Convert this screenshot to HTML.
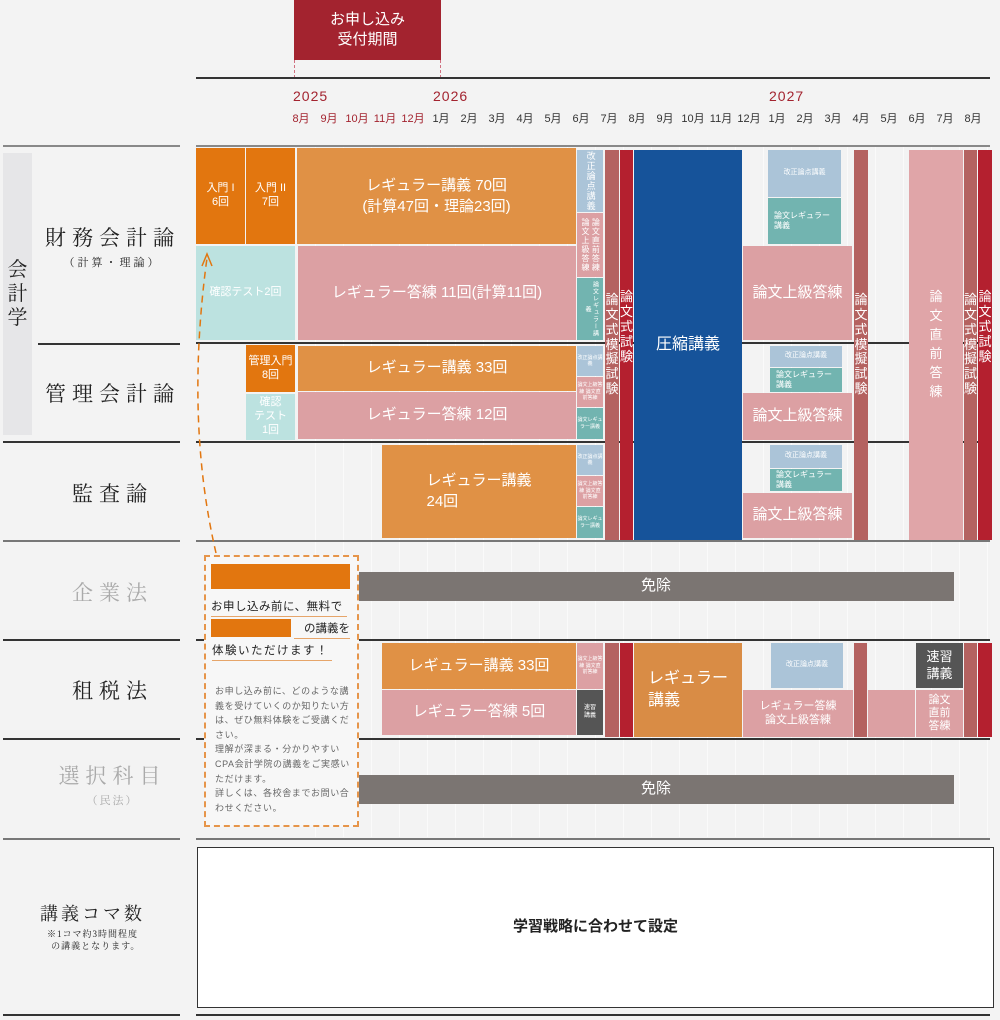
<!DOCTYPE html>
<html><head><meta charset="utf-8">
<style>
*{margin:0;padding:0;box-sizing:border-box}
body{width:1000px;height:1020px;background:#f3f3f3;position:relative;overflow:hidden;font-family:"Liberation Sans","Noto Sans CJK JP",sans-serif}
.a{position:absolute}
.b{position:absolute;display:flex;align-items:center;justify-content:center;text-align:center;color:#fff;line-height:1.25;overflow:hidden}
.v{writing-mode:vertical-rl;letter-spacing:1px}
.or{background:#e2760f}.lo{background:#e09145}.pk{background:#dca0a3}.bl{background:#abc4d8}.tl{background:#72b4b0}
.mk{background:#b46260}.ex{background:#b4202f}.nv{background:#16539a}.dg{background:#555}.gy{background:#7b7572}.lt{background:#bce2e0}
.m{position:absolute;top:110px;font-size:11px;color:#333;width:28px;text-align:center}
.r{color:#a3232f}
.y{position:absolute;top:88px;font-size:14px;color:#a3232f;letter-spacing:1px}
.hl{position:absolute;height:1.5px;background:#333}
.gl{position:absolute;width:1px;background:#fafafa;top:147px;height:690px}
.lab{position:absolute;font-family:"Liberation Serif","Noto Serif CJK JP",serif;color:#222;font-size:21px;letter-spacing:6px;text-align:center}
.s8{font-size:7px;line-height:1.3}
.tb{align-items:flex-start;padding-top:140px;font-size:13px;line-height:1.15}
</style></head><body>

<div class="gl" style="left:315px"></div><div class="gl" style="left:343px"></div><div class="gl" style="left:371px"></div><div class="gl" style="left:399px"></div><div class="gl" style="left:427px"></div><div class="gl" style="left:455px"></div><div class="gl" style="left:483px"></div><div class="gl" style="left:511px"></div><div class="gl" style="left:539px"></div><div class="gl" style="left:567px"></div><div class="gl" style="left:595px"></div><div class="gl" style="left:623px"></div><div class="gl" style="left:651px"></div><div class="gl" style="left:679px"></div><div class="gl" style="left:707px"></div><div class="gl" style="left:735px"></div><div class="gl" style="left:763px"></div><div class="gl" style="left:791px"></div><div class="gl" style="left:819px"></div><div class="gl" style="left:847px"></div><div class="gl" style="left:875px"></div><div class="gl" style="left:903px"></div><div class="gl" style="left:931px"></div><div class="gl" style="left:959px"></div><div class="gl" style="left:987px"></div>

<div class="b" style="left:294px;top:0;width:147px;height:60px;background:#a3232f;font-size:15px;line-height:1.35">お申し込み<br>受付期間</div>
<div class="a" style="left:294px;top:60px;height:18px;border-left:1px dashed #d07080"></div>
<div class="a" style="left:440px;top:60px;height:18px;border-left:1px dashed #d07080"></div>
<div class="hl" style="left:196px;top:77px;width:794px;height:2px"></div>
<div class="y" style="left:293px">2025</div><div class="y" style="left:433px">2026</div><div class="y" style="left:769px">2027</div>
<div class="m r" style="left:287px">8月</div><div class="m r" style="left:315px">9月</div><div class="m r" style="left:343px">10月</div><div class="m r" style="left:371px">11月</div><div class="m r" style="left:399px">12月</div>
<div class="m" style="left:427px">1月</div><div class="m" style="left:455px">2月</div><div class="m" style="left:483px">3月</div><div class="m" style="left:511px">4月</div><div class="m" style="left:539px">5月</div><div class="m" style="left:567px">6月</div><div class="m" style="left:595px">7月</div><div class="m" style="left:623px">8月</div><div class="m" style="left:651px">9月</div><div class="m" style="left:679px">10月</div><div class="m" style="left:707px">11月</div><div class="m" style="left:735px">12月</div>
<div class="m" style="left:763px">1月</div><div class="m" style="left:791px">2月</div><div class="m" style="left:819px">3月</div><div class="m" style="left:847px">4月</div><div class="m" style="left:875px">5月</div><div class="m" style="left:903px">6月</div><div class="m" style="left:931px">7月</div><div class="m" style="left:959px">8月</div>

<div class="a" style="left:196px;top:145px;width:794px;height:2px;background:#888"></div>
<div class="a" style="left:3px;top:145px;width:177px;height:1.5px;background:#888"></div>

<div class="hl" style="left:38px;top:343px;width:142px"></div>
<div class="hl" style="left:196px;top:342px;width:794px"></div>
<div class="hl" style="left:3px;top:441px;width:177px"></div><div class="hl" style="left:196px;top:441px;width:794px"></div>
<div class="hl" style="left:3px;top:540px;width:177px;background:#777"></div><div class="hl" style="left:196px;top:540px;width:794px;background:#777"></div>
<div class="hl" style="left:3px;top:639px;width:177px"></div><div class="hl" style="left:196px;top:639px;width:794px"></div>
<div class="hl" style="left:3px;top:738px;width:177px"></div><div class="hl" style="left:196px;top:738px;width:794px"></div>
<div class="hl" style="left:3px;top:838px;width:177px;background:#777"></div><div class="hl" style="left:196px;top:838px;width:794px;background:#777"></div>
<div class="hl" style="left:3px;top:1014px;width:177px"></div><div class="hl" style="left:196px;top:1014px;width:794px"></div>

<div class="b" style="left:3px;top:153px;width:29px;height:282px;background:#e6e6e8;color:#222;font-family:'Liberation Serif','Noto Serif CJK JP',serif;font-size:20px;line-height:1.2">会<br>計<br>学</div>
<div class="lab" style="left:40px;top:222px;width:145px">財務会計論</div>
<div class="lab" style="left:40px;top:254px;width:145px;font-size:11px;letter-spacing:3px">（計算・理論）</div>
<div class="lab" style="left:40px;top:378px;width:145px">管理会計論</div>
<div class="lab" style="left:40px;top:478px;width:145px">監査論</div>
<div class="lab" style="left:40px;top:577px;width:145px;color:#aaa">企業法</div>
<div class="lab" style="left:40px;top:675px;width:145px">租税法</div>
<div class="lab" style="left:40px;top:760px;width:145px;color:#aaa">選択科目</div>
<div class="lab" style="left:40px;top:792px;width:145px;color:#aaa;font-size:11px;letter-spacing:2px">（民法）</div>
<div class="lab" style="left:30px;top:900px;width:125px;font-size:18px;letter-spacing:3px">講義コマ数</div>
<div class="lab" style="left:30px;top:928px;width:125px;font-size:9px;letter-spacing:1px;line-height:1.35">※1コマ約3時間程度<br>&nbsp;&nbsp;の講義となります。</div>

<!-- 財務 -->
<div class="b or" style="left:196px;top:148px;width:49px;height:96px;font-size:11px">入門 I<br>6回</div>
<div class="b or" style="left:246px;top:148px;width:49px;height:96px;font-size:11px">入門 II<br>7回</div>
<div class="b lo" style="left:297px;top:148px;width:279px;height:96px;font-size:15px;line-height:1.4">レギュラー講義 70回<br>(計算47回・理論23回)</div>
<div class="b lt" style="left:196px;top:246px;width:99px;height:94px;font-size:11px">確認テスト2回</div>
<div class="b pk" style="left:298px;top:246px;width:278px;height:94px;font-size:15px">レギュラー答練 11回(計算11回)</div>
<div class="b bl v" style="left:577px;top:150px;width:26px;height:62px;font-size:9px">改正論点講義</div>
<div class="b pk v s8" style="left:577px;top:213px;width:26px;height:64px;font-size:8px">論文直前答練 論文上級答練</div>
<div class="b tl v" style="left:577px;top:278px;width:26px;height:62px;font-size:6px">論文レギュラー講義</div>

<div class="b mk" style="left:605px;top:150px;width:14px;height:390px;font-size:13px;line-height:1.15">論<br>文<br>式<br>模<br>擬<br>試<br>験</div>
<div class="b ex tb" style="left:620px;top:150px;width:13px;height:390px">論<br>文<br>式<br>試<br>験</div>
<div class="b nv" style="left:634px;top:150px;width:108px;height:390px;font-size:16px">圧縮講義</div>

<div class="b bl" style="left:768px;top:150px;width:73px;height:47px;font-size:7px">改正論点講義</div>
<div class="b tl" style="left:768px;top:198px;width:73px;height:46px;font-size:8px;justify-content:flex-start;padding-left:6px;text-align:left">論文レギュラー<br>講義</div>
<div class="b pk" style="left:743px;top:246px;width:109px;height:94px;font-size:15px">論文上級答練</div>
<div class="b mk" style="left:854px;top:150px;width:14px;height:390px;font-size:13px;line-height:1.15">論<br>文<br>式<br>模<br>擬<br>試<br>験</div>
<div class="b" style="left:909px;top:150px;width:54px;height:390px;background:#e0a5a8;font-size:13px;line-height:1.45">論<br>文<br>直<br>前<br>答<br>練</div>
<div class="b mk" style="left:964px;top:150px;width:13px;height:390px;font-size:13px;line-height:1.15">論<br>文<br>式<br>模<br>擬<br>試<br>験</div>
<div class="b ex tb" style="left:978px;top:150px;width:14px;height:390px">論<br>文<br>式<br>試<br>験</div>

<!-- 管理 -->
<div class="b or" style="left:246px;top:345px;width:49px;height:47px;font-size:11px">管理入門<br>8回</div>
<div class="b lt" style="left:246px;top:394px;width:49px;height:46px;font-size:11px">確認<br>テスト<br>1回</div>
<div class="b lo" style="left:298px;top:346px;width:278px;height:45px;font-size:15px">レギュラー講義 33回</div>
<div class="b pk" style="left:298px;top:392px;width:278px;height:47px;font-size:15px">レギュラー答練 12回</div>
<div class="b bl s8" style="left:577px;top:346px;width:26px;height:30px;font-size:5px">改正論点講義</div>
<div class="b pk s8" style="left:577px;top:377px;width:26px;height:30px;font-size:5px">論文上級答練 論文直前答練</div>
<div class="b tl s8" style="left:577px;top:408px;width:26px;height:31px;font-size:5px">論文レギュラー講義</div>
<div class="b bl" style="left:770px;top:346px;width:72px;height:21px;font-size:7px">改正論点講義</div>
<div class="b tl" style="left:770px;top:368px;width:72px;height:24px;font-size:8px;justify-content:flex-start;padding-left:6px;text-align:left">論文レギュラー<br>講義</div>
<div class="b pk" style="left:743px;top:393px;width:109px;height:47px;font-size:15px">論文上級答練</div>

<!-- 監査 -->
<div class="b lo" style="left:382px;top:445px;width:194px;height:93px;font-size:15px;text-align:left;line-height:1.35">レギュラー講義<br>24回</div>
<div class="b bl s8" style="left:577px;top:445px;width:26px;height:30px;font-size:5px">改正論点講義</div>
<div class="b pk s8" style="left:577px;top:476px;width:26px;height:30px;font-size:5px">論文上級答練 論文直前答練</div>
<div class="b tl s8" style="left:577px;top:507px;width:26px;height:31px;font-size:5px">論文レギュラー講義</div>
<div class="b bl" style="left:770px;top:445px;width:72px;height:23px;font-size:7px">改正論点講義</div>
<div class="b tl" style="left:770px;top:469px;width:72px;height:22px;font-size:8px;justify-content:flex-start;padding-left:6px;text-align:left">論文レギュラー<br>講義</div>
<div class="b pk" style="left:743px;top:493px;width:109px;height:45px;font-size:15px">論文上級答練</div>

<div class="b gy" style="left:358px;top:572px;width:596px;height:29px;font-size:15px">免除</div>

<!-- 租税 -->
<div class="b lo" style="left:382px;top:643px;width:194px;height:46px;font-size:15px">レギュラー講義 33回</div>
<div class="b pk" style="left:382px;top:690px;width:194px;height:45px;font-size:15px">レギュラー答練 5回</div>
<div class="b pk s8" style="left:577px;top:643px;width:26px;height:46px;font-size:5px">論文上級答練 論文直前答練</div>
<div class="b dg" style="left:577px;top:690px;width:26px;height:45px;font-size:6px">速習<br>講義</div>
<div class="b mk" style="left:605px;top:643px;width:14px;height:94px"></div>
<div class="b ex" style="left:620px;top:643px;width:13px;height:94px"></div>
<div class="b" style="left:634px;top:643px;width:108px;height:94px;background:#d98c45;font-size:16px;text-align:left;line-height:1.4">レギュラー<br>講義</div>
<div class="b bl" style="left:771px;top:643px;width:72px;height:45px;font-size:7px">改正論点講義</div>
<div class="b pk" style="left:743px;top:690px;width:110px;height:47px;font-size:11px">レギュラー答練<br>論文上級答練</div>
<div class="b mk" style="left:854px;top:643px;width:13px;height:94px"></div>
<div class="b pk" style="left:868px;top:690px;width:47px;height:47px"></div>
<div class="b dg" style="left:916px;top:643px;width:47px;height:45px;font-size:13px">速習<br>講義</div>
<div class="b pk" style="left:916px;top:690px;width:47px;height:47px;font-size:11px;line-height:1.2">論文<br>直前<br>答練</div>
<div class="b mk" style="left:964px;top:643px;width:13px;height:94px"></div>
<div class="b ex" style="left:978px;top:643px;width:14px;height:94px"></div>

<div class="b gy" style="left:358px;top:775px;width:596px;height:29px;font-size:15px">免除</div>

<div class="b" style="left:197px;top:847px;width:797px;height:161px;background:#fff;border:1.5px solid #333;color:#222;font-size:15px;font-weight:bold">学習戦略に合わせて設定</div>

<!-- promo -->
<div class="a" style="left:204px;top:555px;width:155px;height:272px;border:2px dashed #e6954a;background:#f7f7f7"></div>
<div class="a" style="left:211px;top:564px;width:139px;height:25px;background:#e2760f"></div>
<div class="a" style="left:211px;top:598px;width:136px;font-size:11.5px;color:#222;border-bottom:1px solid #e6a56a;padding-bottom:2px;letter-spacing:.5px">お申し込み前に、無料で</div>
<div class="a" style="left:211px;top:619px;width:80px;height:18px;background:#e2760f"></div>
<div class="a" style="left:294px;top:620px;width:56px;font-size:11.5px;color:#222;border-bottom:1px solid #e6a56a;padding-bottom:2px;text-align:right">の講義を</div>
<div class="a" style="left:212px;top:642px;width:120px;font-size:11.5px;color:#222;border-bottom:1px solid #e6a56a;padding-bottom:2px;letter-spacing:1.5px">体験いただけます！</div>
<div class="a" style="left:215px;top:684px;width:140px;font-size:9px;color:#666;line-height:14.6px;letter-spacing:.6px">お申し込み前に、どのような講義を受けていくのか知りたい方は、ぜひ無料体験をご受講ください。<br>理解が深まる・分かりやすいCPA会計学院の講義をご実感いただけます。<br>詳しくは、各校舎までお問い合わせください。</div>
<svg class="a" style="left:0;top:0" width="1000" height="1020">
<path d="M216 553 Q185 420 207 258" fill="none" stroke="#e2760f" stroke-width="1.5" stroke-dasharray="7,5"/>
<path d="M202 266 L207 254 L212 266" fill="none" stroke="#e2760f" stroke-width="1.5"/>
</svg>
</body></html>
